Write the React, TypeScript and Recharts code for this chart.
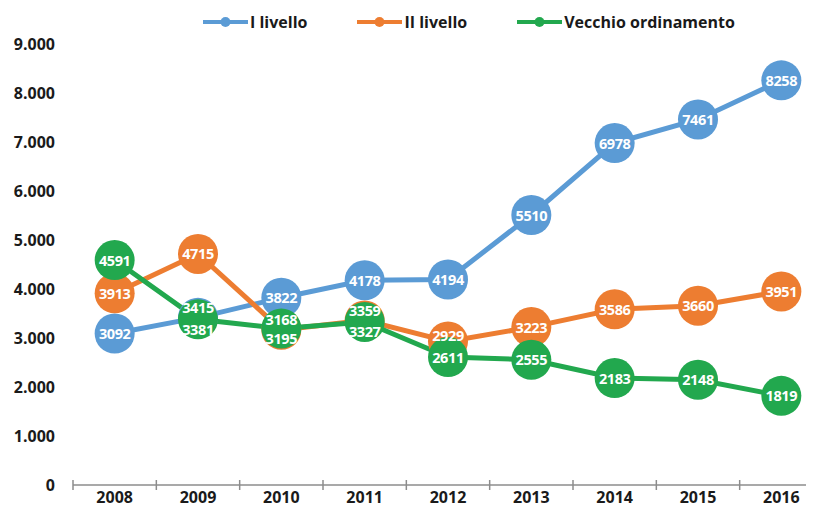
import { LineChart, Line, XAxis, YAxis, Legend, LabelList } from "recharts";

const years = [2008, 2009, 2010, 2011, 2012, 2013, 2014, 2015, 2016];
const primoLivello = [3092, 3415, 3822, 4178, 4194, 5510, 6978, 7461, 8258];
const secondoLivello = [3913, 4715, 3168, 3359, 2929, 3223, 3586, 3660, 3951];
const vecchioOrdinamento = [4591, 3381, 3195, 3327, 2611, 2555, 2183, 2148, 1819];
const yTicks = [0, 1000, 2000, 3000, 4000, 5000, 6000, 7000, 8000, 9000];

const series = [
  { key: "primo", name: "I livello", color: "#5B9BD5" },
  { key: "secondo", name: "II livello", color: "#ED7D31" },
  { key: "vecchio", name: "Vecchio ordinamento", color: "#22A84E" },
];

// small vertical nudges where two labels sit on the same spot
const labelShift: Record<string, Record<number, number>> = {
  primo: { 2009: -10 },
  secondo: { 2010: -10, 2011: -10, 2012: -6 },
  vecchio: { 2009: 10, 2010: 10, 2011: 10 },
};

const data = years.map((year, i) => ({
  year,
  primo: primoLivello[i],
  secondo: secondoLivello[i],
  vecchio: vecchioOrdinamento[i],
}));

// axis ticks: band edges (for tick marks) plus the years (for labels)
const xTicks = [...years.map((y) => y - 0.5), ...years].sort((a, b) => a - b);

const font = "'Open Sans', sans-serif";

const fmt = (v: number) => String(v).replace(/\B(?=(\d{3})+(?!\d))/g, ".");

const XTick = (props: any) => {
  const { x, y, payload } = props;
  const v = payload.value;
  if (!Number.isInteger(v)) {
    return <line x1={x} x2={x} y1={y - 5} y2={y + 5} stroke="#8c8c8c" strokeWidth={1.5} />;
  }
  return (
    <text x={x} y={y + 18} textAnchor="middle" fontFamily={font} fontWeight={700} fontSize={16} fill="#1a1a1a">
      {v}
    </text>
  );
};

const makeLabel = (key: string) => (props: any) => {
  const { x, y, value, index } = props;
  const dy = labelShift[key][years[index]] || 0;
  return (
    <text
      x={x}
      y={y + dy}
      textAnchor="middle"
      dominantBaseline="central"
      fontFamily={font}
      fontWeight={700}
      fontSize={14.5}
      letterSpacing={-0.4}
      fill="#ffffff"
    >
      {value}
    </text>
  );
};

const LegendContent = () => (
  <div style={{ display: "flex", alignItems: "center", height: 28, fontFamily: font, fontWeight: 700, fontSize: 16, color: "#1a1a1a" }}>
    {series.map((s) => (
      <div key={s.key} style={{ display: "flex", alignItems: "center", marginRight: 50 }}>
        <svg width={45} height={12}>
          <line x1={0} x2={45} y1={6} y2={6} stroke={s.color} strokeWidth={4} />
          <circle cx={22.5} cy={6} r={5} fill={s.color} />
        </svg>
        <span style={{ marginLeft: 2 }}>{s.name}</span>
      </div>
    ))}
  </div>
);

export default function App() {
  return (
    <div style={{ width: 806, height: 510, overflow: "hidden" }}>
      <LineChart width={830} height={510} data={data} margin={{ top: 8, right: 15, bottom: 0, left: 0 }}>
        <Legend
          verticalAlign="top"
          content={<LegendContent />}
          wrapperStyle={{ top: 0, left: 195, width: 600 }}
        />
        <XAxis
          dataKey="year"
          type="number"
          domain={[2007.5, 2016.5]}
          ticks={xTicks}
          interval={0}
          allowDataOverflow
          height={33}
          tickLine={false}
          tickSize={0}
          tickMargin={0}
          axisLine={{ stroke: "#8c8c8c", strokeWidth: 1.5 }}
          tick={<XTick />}
        />
        <YAxis
          domain={[0, 9000]}
          ticks={yTicks}
          width={65}
          axisLine={false}
          tickLine={false}
          tickSize={0}
          tickMargin={18}
          tickFormatter={fmt}
          tick={{ fontFamily: font, fontWeight: 700, fontSize: 16, fill: "#1a1a1a" }}
        />
        {series.map((s) => (
          <Line
            key={s.key}
            dataKey={s.key}
            name={s.name}
            stroke={s.color}
            strokeWidth={5}
            dot={{ r: 20, fill: s.color, stroke: "none" }}
            activeDot={false}
            isAnimationActive={false}
          />
        ))}
        {series.map((s) => (
          <Line
            key={s.key + "-labels"}
            dataKey={s.key}
            stroke="none"
            dot={false}
            activeDot={false}
            legendType="none"
            isAnimationActive={false}
          >
            <LabelList dataKey={s.key} content={makeLabel(s.key)} />
          </Line>
        ))}
      </LineChart>
    </div>
  );
}
